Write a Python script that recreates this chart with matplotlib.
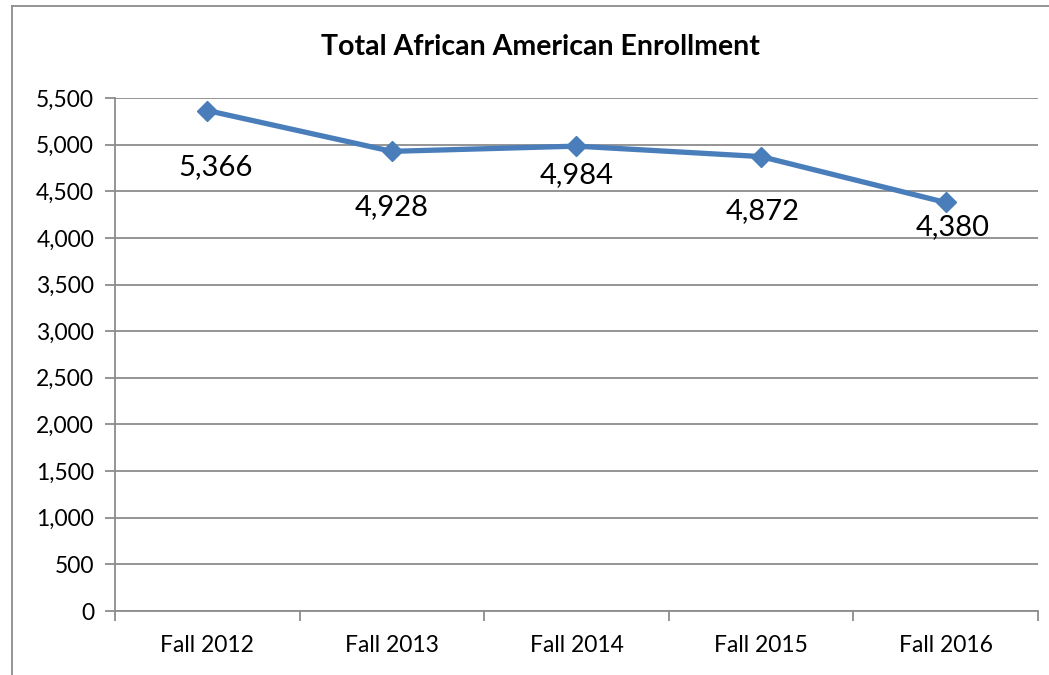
import matplotlib.pyplot as plt
from matplotlib.lines import Line2D

# enrollment by fall term
terms = ['Fall 2012', 'Fall 2013', 'Fall 2014', 'Fall 2015', 'Fall 2016']
enrollment = [5366, 4928, 4984, 4872, 4380]
y_ticks = list(range(0, 5501, 500))

# label offsets below each point (points), as placed in the original sheet
label_dx = [6, 0, 0, 1, 5]
label_dy = [-41, -40, -21, -39, -18]

plt.rcParams['font.family'] = ['Lato', 'DejaVu Sans']

fig = plt.figure(figsize=(10.49, 6.75), dpi=100)
ax = fig.add_axes([0.1096, 0.0948, 0.8799, 0.7600])

x = list(range(len(terms)))
ax.plot(x, enrollment, color='#4A7EBB', linewidth=3.8, marker='D',
        markersize=10, markerfacecolor='#4A7EBB', markeredgecolor='#4A7EBB',
        zorder=3)

for xi, val, dx, dy in zip(x, enrollment, label_dx, label_dy):
    ax.annotate(f'{val:,}', (xi, val), xytext=(dx, dy), textcoords='offset points',
                ha='center', va='center', fontsize=21, color='black')

ax.set_xlim(-0.5, len(terms) - 0.5)
ax.set_ylim(0, 5500)
ax.set_yticks(y_ticks)
ax.set_yticklabels([f'{v:,}' for v in y_ticks], fontsize=16.5)
ax.yaxis.grid(True, color='#8C8C8C', linewidth=1.3)
ax.set_axisbelow(True)

# category ticks sit on the boundaries, labels in the middle
ax.set_xticks([i - 0.5 for i in range(len(terms) + 1)])
ax.set_xticklabels([])
ax.set_xticks(x, minor=True)
ax.set_xticklabels(terms, minor=True, fontsize=16.5)
ax.tick_params(axis='x', which='major', direction='out', length=7, width=1.3,
               color='#8C8C8C')
ax.tick_params(axis='x', which='minor', length=0, pad=17)
ax.tick_params(axis='y', direction='out', length=7, width=1.3, color='#8C8C8C', pad=8)

for side in ['top', 'right']:
    ax.spines[side].set_visible(False)
for side in ['left', 'bottom']:
    ax.spines[side].set_color('#8C8C8C')
    ax.spines[side].set_linewidth(1.3)

fig.text(0.515, 0.930, 'Total African American Enrollment', ha='center', va='center',
         fontsize=20.5, fontweight='bold')

# chart frame
fx = 11.5 / 1049
fy = 1 - 5.5 / 675
fig.add_artist(Line2D([fx, fx], [0, fy], color='#8C8C8C', linewidth=1.3))
fig.add_artist(Line2D([fx, 1], [fy, fy], color='#8C8C8C', linewidth=1.3))

fig.savefig('out.png', dpi=100, facecolor='white')
